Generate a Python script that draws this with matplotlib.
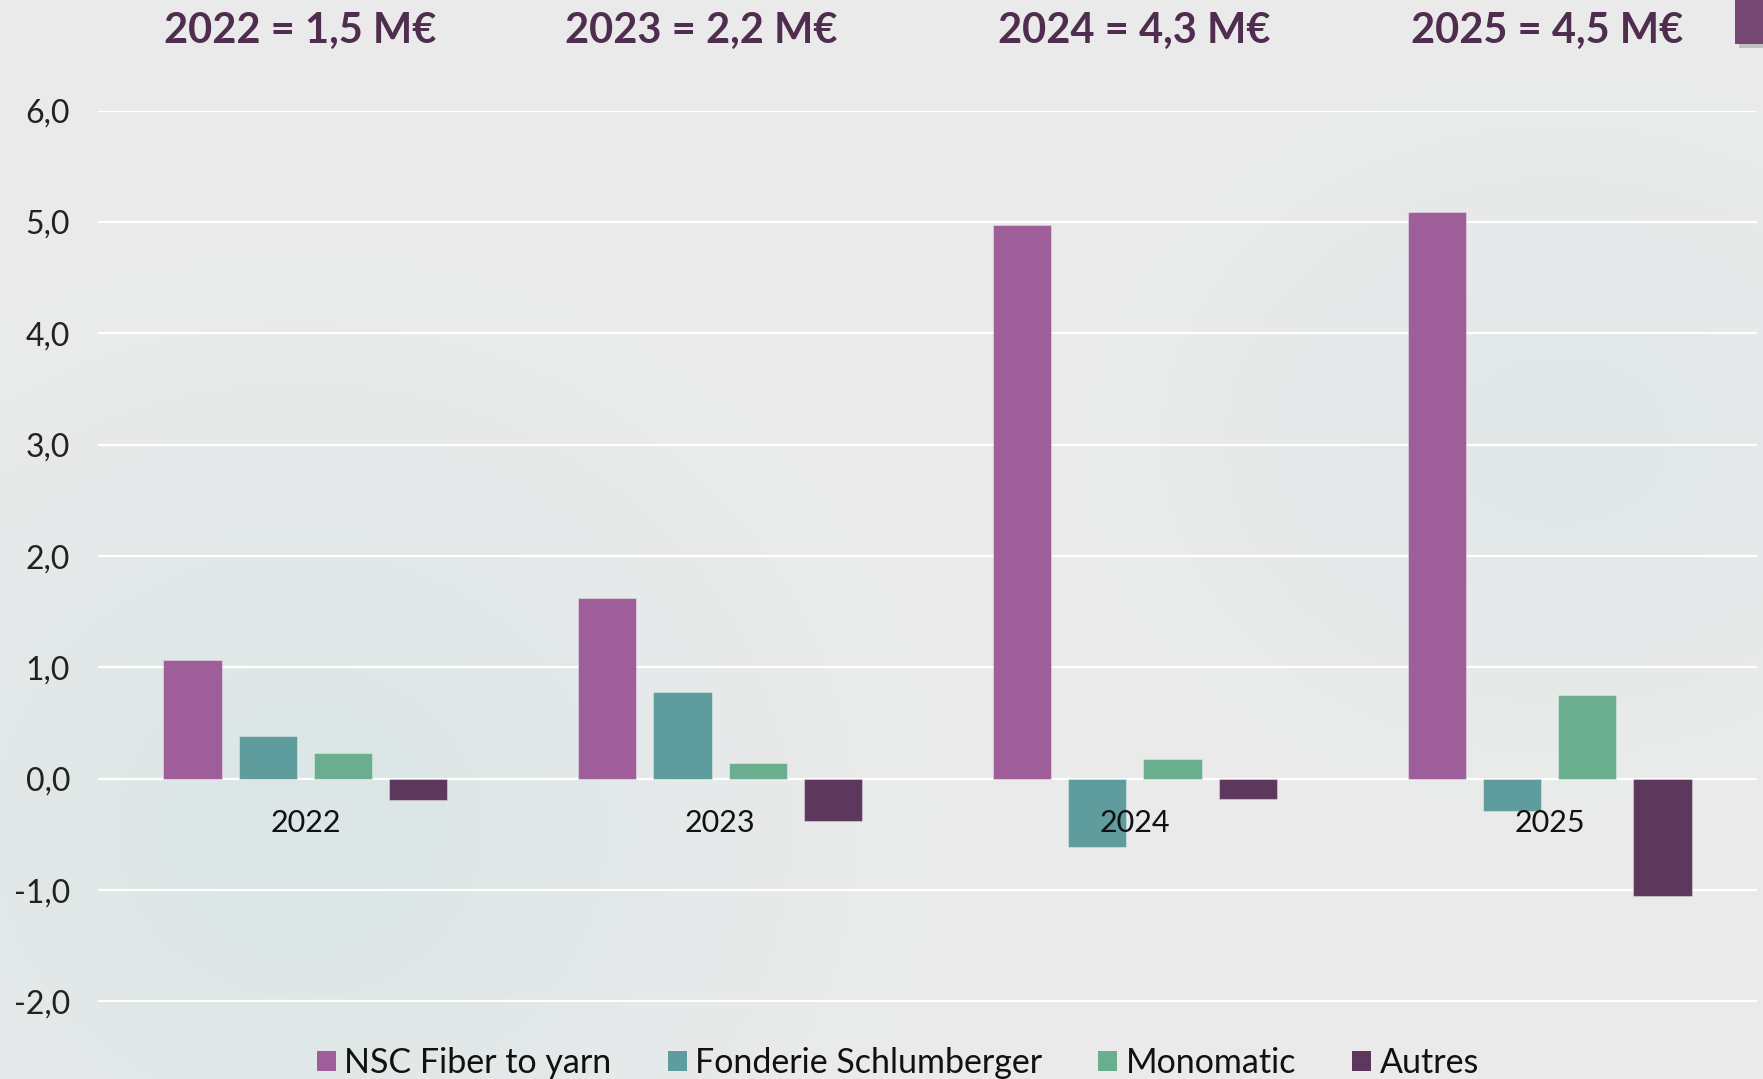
import numpy as np
import matplotlib
matplotlib.use("Agg")
import matplotlib.pyplot as plt
from matplotlib.patches import Rectangle, Patch
from matplotlib.transforms import blended_transform_factory
from matplotlib.ticker import FuncFormatter

# data (M€)
years = ["2022", "2023", "2024", "2025"]
totals = ["1,5", "2,2", "4,3", "4,5"]
series = ["NSC Fiber to yarn", "Fonderie Schlumberger", "Monomatic", "Autres"]
nsc = [1.07, 1.62, 4.97, 5.09]
fonderie = [0.38, 0.78, -0.61, -0.29]
monomatic = [0.23, 0.14, 0.18, 0.75]
autres = [-0.19, -0.38, -0.18, -1.05]
colors = ["#9E5E9A", "#5F9C9D", "#6AAE8F", "#5E375D"]

W, H = 1763, 1079
fig = plt.figure(figsize=(W / 100, H / 100), dpi=100)
fig.patch.set_facecolor("#EBEBEB")

# soft background blobs
bg = fig.add_axes([0, 0, 1, 1], zorder=-10)
yy, xx = np.mgrid[0:H, 0:W]
img = np.ones((H, W, 3)) * np.array([235, 235, 235]) / 255
for cx, cy, rx, ry, col in [(300, 830, 460, 420, (220, 230, 230)),
                            (1560, 440, 380, 300, (226, 232, 232))]:
    r2 = ((xx - cx) / rx) ** 2 + ((yy - cy) / ry) ** 2
    w = np.exp(-r2 * 1.4)[..., None]
    img = img * (1 - w) + np.array(col) / 255 * w
bg.imshow(img, aspect="auto", extent=[0, 1, 0, 1], origin="upper")
bg.axis("off")

ax = fig.add_axes([98 / W, 1 - 1001.5 / H, (1757 - 98) / W, (1001.5 - 110.6) / H])
ax.set_facecolor("none")

x = np.arange(len(years))
step = 0.1814
width = 0.1408
for k, (vals, c, name) in enumerate(zip([nsc, fonderie, monomatic, autres], colors, series)):
    ax.bar(x + (k - 1.5) * step, vals, width, color=c, edgecolor=(1, 1, 1, 0.35),
           linewidth=0.8, label=name, zorder=2)

ax.set_xlim(-0.5, 3.5)
ax.set_ylim(-2, 6)
ax.set_yticks(np.arange(-2, 7, 1))
ax.yaxis.set_major_formatter(FuncFormatter(lambda v, p: f"{v:.1f}".replace(".", ",")))
ax.grid(axis="y", color="white", linewidth=1.6)
ax.set_axisbelow(True)
ax.xaxis.set_zorder(3)
for s in ax.spines.values():
    s.set_visible(False)
ax.spines["bottom"].set_position(("data", 0))
ax.set_xticks(x)
ax.set_xticklabels(years)
ax.tick_params(axis="x", length=0, pad=22, labelsize=22, labelcolor="#111111")
ax.tick_params(axis="y", length=0, pad=20, labelsize=23, labelcolor="#222222")
for lab in ax.get_xticklabels() + ax.get_yticklabels():
    lab.set_family("Lato")

# totals above each year (boxes sit slightly off the group centres)
tr = blended_transform_factory(ax.transData, fig.transFigure)
title_shift = [-0.012, -0.046, -0.001, -0.005]
for i, (yr, tot) in enumerate(zip(years, totals)):
    ax.text(i + title_shift[i], 1 - 43 / H, f"{yr} = {tot} M€", transform=tr, ha="center",
            va="baseline", fontsize=30, fontweight="bold", color="#4E2D4E", family="Lato")

# purple tab in the top-right corner
fig.patches.append(Rectangle((1739 / W, 1 - 48 / H), 28 / W, 48 / H, transform=fig.transFigure,
                             facecolor="#9a9a9a", alpha=0.5, edgecolor="none", zorder=5))
fig.patches.append(Rectangle((1735 / W, 1 - 44 / H), 28 / W, 44 / H, transform=fig.transFigure,
                             facecolor="#744872", edgecolor="none", zorder=6))

handles = [Patch(facecolor=c, edgecolor="none") for c in colors]
fig.legend(handles, series, loc="center", bbox_to_anchor=(898 / W, 1 - 1063 / H), ncol=4,
           frameon=False, prop={"family": "Lato", "size": 24.5}, handlelength=0.55,
           handleheight=0.55, handletextpad=0.25, columnspacing=1.65, labelcolor="#111111")

fig.savefig("out.png", dpi=100)
